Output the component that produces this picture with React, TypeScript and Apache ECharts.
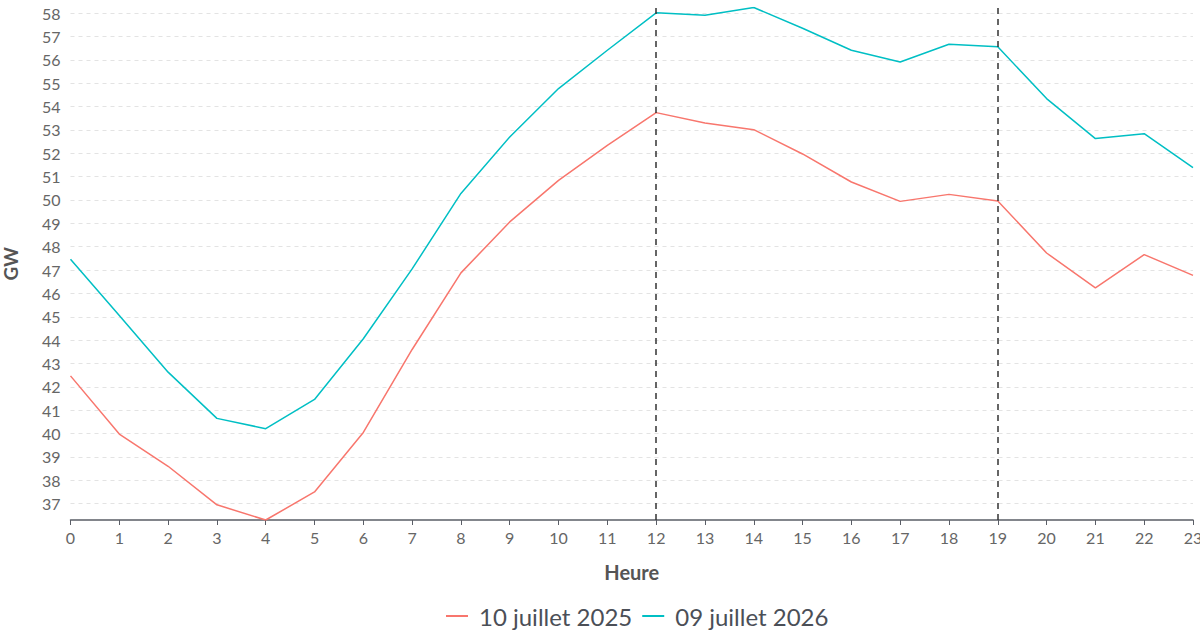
import React, { useEffect, useRef } from "react";
import * as echarts from "echarts";

const hours = Array.from({ length: 24 }, (_, i) => String(i));

const serie2025 = [
  42.47, 39.98, 38.6, 36.95, 36.3, 37.5, 40.05, 43.6, 46.88, 49.06, 50.84, 52.34,
  53.74, 53.3, 53.01, 51.97, 50.77, 49.94, 50.24, 49.96, 47.73, 46.24, 47.66, 46.77,
];

const serie2026 = [
  47.46, 45.05, 42.63, 40.65, 40.21, 41.46, 44.06, 47.05, 50.28, 52.7, 54.77, 56.41,
  58.01, 57.91, 58.24, 57.35, 56.41, 55.91, 56.67, 56.56, 54.34, 52.63, 52.84, 51.39,
];

const markHours = ["12", "19"];

const FONT = "Lato, 'Noto Sans', sans-serif";

const App: React.FC = () => {
  const chartRef = useRef<HTMLDivElement>(null);

  useEffect(() => {
    if (!chartRef.current) return;
    const chart = echarts.init(chartRef.current, undefined, { renderer: "svg" });
    chart.setOption({
      animation: false,
      textStyle: { fontFamily: FONT },
      grid: { left: 70.5, right: 7, top: 7.5, bottom: 123, outerBoundsMode: "none" },
      legend: {
        top: 599,
        left: 440,
        itemWidth: 22,
        itemHeight: 14,
        itemGap: 9,
        itemStyle: { opacity: 0 },
        textStyle: { fontSize: 24, color: "#4b4f57", fontFamily: FONT, padding: [0, 0, 0, 6] },
        data: ["10 juillet 2025", "09 juillet 2026"],
      },
      xAxis: {
        type: "category",
        data: hours,
        boundaryGap: false,
        name: "Heure",
        nameLocation: "middle",
        nameGap: 42,
        nameTextStyle: { fontSize: 20, fontWeight: "bold", color: "#555", fontFamily: FONT },
        axisLine: { lineStyle: { color: "#5a5e66", width: 1.5 } },
        axisTick: { alignWithLabel: true, length: 5, lineStyle: { color: "#5a5e66" } },
        axisLabel: { fontSize: 16, color: "#666", margin: 9, fontFamily: FONT },
        splitLine: { show: false },
      },
      yAxis: {
        type: "value",
        min: "dataMin",
        max: "dataMax",
        splitNumber: 22,
        name: "GW",
        nameLocation: "middle",
        nameGap: 51,
        nameTextStyle: { fontSize: 19, fontWeight: "bold", color: "#555", fontFamily: FONT },
        axisLine: { show: false },
        axisTick: { show: false },
        axisLabel: {
          fontSize: 16,
          color: "#666",
          margin: 10,
          showMinLabel: false,
          showMaxLabel: false,
          fontFamily: FONT,
        },
        splitLine: {
          showMinLine: false,
          showMaxLine: false,
          lineStyle: { color: "#e3e3e3", type: [4, 4], width: 1 },
        },
      },
      series: [
        {
          name: "10 juillet 2025",
          type: "line",
          data: serie2025,
          symbol: "none",
          color: "#F8766D",
          lineStyle: { width: 1.5 },
          markLine: {
            silent: true,
            symbol: "none",
            label: { show: false },
            lineStyle: { color: "#333", type: [6, 5], width: 1.5 },
            data: markHours.map((h) => ({ xAxis: h })),
          },
        },
        {
          name: "09 juillet 2026",
          type: "line",
          data: serie2026,
          symbol: "none",
          color: "#00BFC4",
          lineStyle: { width: 1.5 },
        },
      ],
    });
    return () => chart.dispose();
  }, []);

  return (
    <div
      ref={chartRef}
      style={{ position: "fixed", left: 0, top: 0, width: "1200px", height: "643px", background: "#fff" }}
    ></div>
  );
};

export default App;
